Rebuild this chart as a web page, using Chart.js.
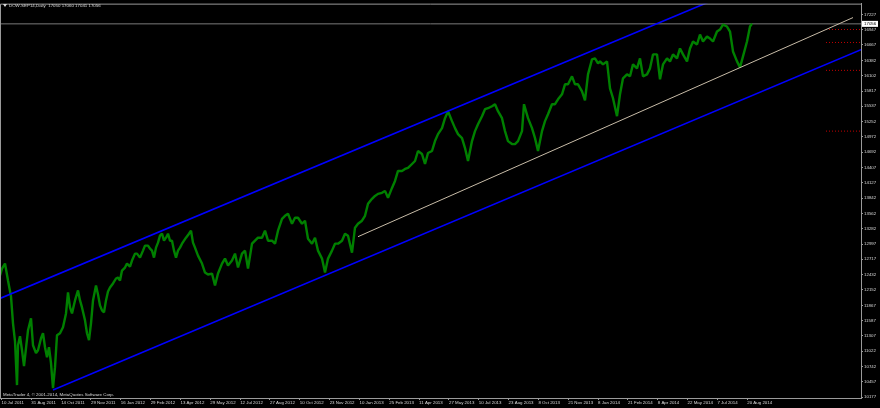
<!DOCTYPE html>
<html>
<head>
<meta charset="utf-8">
<title>DOW-SEP14,Daily</title>
<script src="https://cdn.jsdelivr.net/npm/chart.js@4.4.1/dist/chart.umd.min.js"></script>
<style>
  html, body { margin: 0; padding: 0; background: #000; }
  #priceChart { display: block; }
</style>
</head>
<body>
<canvas id="priceChart" width="880" height="408"></canvas>
<script>
/* ── data ── */
const symbolLabel = "DOW-SEP14,Daily";
const lastOhlc    = [17050, 17060, 17041, 17056];
const bidPrice    = 17056;

// bar number (1 bar per column) and close, sampled along the series
const barIndex = [
  0, 2, 5, 8, 11, 13, 15, 17, 18, 20, 22, 24, 26, 28, 31, 33, 36, 38, 41, 43,
  45, 47, 49, 51, 53, 55, 57, 60, 63, 66, 68, 70, 72, 75, 78, 80, 82, 85, 87, 89,
  91, 93, 96, 98, 100, 102, 104, 106, 108, 110, 113, 116, 118, 120, 122, 125, 127, 130, 132, 135,
  137, 140, 143, 145, 148, 150, 152, 154, 156, 158, 160, 162, 164, 166, 168, 170, 172, 174, 176, 178,
  180, 182, 184, 186, 189, 191, 193, 195, 198, 202, 205, 208, 212, 215, 218, 222, 225, 228, 232, 235,
  238, 242, 245, 248, 252, 255, 258, 262, 265, 268, 272, 275, 278, 282, 285, 288, 292, 295, 298, 302,
  305, 308, 312, 315, 318, 322, 325, 328, 332, 335, 338, 342, 345, 348, 352, 355, 358, 362, 365, 368,
  372, 375, 378, 382, 385, 388, 392, 395, 398, 402, 405, 408, 412, 415, 418, 422, 425, 428, 432, 435,
  438, 442, 445, 448, 452, 455, 458, 462, 465, 468, 472, 475, 478, 482, 485, 488, 492, 495, 498, 502,
  505, 508, 512, 515, 518, 522, 524, 528, 532, 535, 538, 542, 545, 548, 552, 555, 558, 562, 565, 568,
  572, 575, 578, 582, 585, 588, 592, 595, 598, 600, 603, 607, 610, 613, 617, 620, 623, 627, 630, 633,
  637, 640, 643, 647, 650, 653, 657, 660, 663, 667, 670, 673, 677, 680, 683, 687, 690, 693, 697, 700,
  703, 707, 710, 713, 717, 720, 723, 727, 730, 733, 737, 740, 743, 747, 750, 752
];
const closes = [
  12417, 12545, 12637, 12325, 12031, 11536, 11205, 10397, 11132, 11297, 11040, 10746, 11077, 11407, 11627, 11132, 10985, 11040, 11260, 11352,
  11095, 10911, 11095, 10801, 10342, 10728, 11315, 11352, 11462, 11719, 12105, 11829, 11719, 11958, 12142, 11958, 11829, 11591, 11352, 11224,
  11536, 11958, 12233, 12068, 11866, 11774, 11737, 11958, 12123, 12197, 12270, 12362, 12380, 12325, 12509, 12564, 12637, 12582, 12692, 12821,
  12821, 12747, 12876, 12968, 12968, 12913, 12876, 12747, 12931, 13023, 13151, 13188, 13059, 13114, 13188, 13059, 13059, 12876, 12747, 12876,
  12931, 13004, 13059, 13114, 13188, 13243, 13023, 12931, 12784, 12637, 12472, 12435, 12453, 12233, 12453, 12637, 12729, 12600, 12692, 12821,
  12564, 12821, 12876, 12545, 13004, 13059, 13114, 13114, 13243, 13059, 13059, 13004, 13243, 13463, 13518, 13555, 13371, 13482, 13482, 13371,
  13427, 13096, 13004, 13114, 12876, 12729, 12472, 12729, 12876, 13004, 13004, 13059, 13188, 13151, 12839, 13298, 13371, 13427, 13518, 13739,
  13830, 13885, 13922, 13941, 13977, 13849, 14032, 14161, 14345, 14345, 14381, 14400, 14473, 14528, 14712, 14657, 14473, 14675, 14712, 14895,
  15024, 15134, 15318, 15446, 15263, 15134, 15024, 14950, 14767, 14528, 14895, 15079, 15207, 15354, 15483, 15501, 15538, 15575, 15446, 15318,
  15079, 14895, 14840, 14840, 14895, 15079, 15575, 15318, 15134, 14950, 14712, 15079, 15263, 15391, 15575, 15575, 15666, 15758, 15942, 15942,
  16089, 15942, 15942, 15813, 15648, 16125, 16401, 16419, 16327, 16364, 16309, 16364, 15868, 15685, 15354, 15758, 16052, 16125, 16089, 16309,
  16236, 16419, 16089, 16125, 16236, 16493, 16493, 16034, 16309, 16419, 16364, 16493, 16419, 16603, 16493, 16364, 16603, 16731, 16676, 16860,
  16731, 16823, 16786, 16731, 16915, 16952, 17043, 17007, 16915, 16548, 16364, 16254, 16456, 16731, 17007, 17062
];

const yTicks = [
  17227, 16947, 16667, 16382, 16102, 15817, 15537, 15252, 14972, 14692, 14407, 14127, 13842, 13562,
  13282, 12997, 12717, 12432, 12152, 11867, 11587, 11307, 11022, 10742, 10457, 10177
];
const dateLabels = [
  "10 Jul 2011", "31 Aug 2011", "14 Oct 2011", "29 Nov 2011", "16 Jan 2012", "29 Feb 2012", "13 Apr 2012",
  "29 May 2012", "12 Jul 2012", "27 Aug 2012", "10 Oct 2012", "23 Nov 2012", "10 Jan 2013", "25 Feb 2013",
  "11 Apr 2013", "27 May 2013", "10 Jul 2013", "23 Aug 2013", "8 Oct 2013", "21 Nov 2013", "8 Jan 2014",
  "21 Feb 2014", "8 Apr 2014", "22 May 2014", "7 Jul 2014", "20 Aug 2014"
];
const barsPerLabel = 29.83;

// drawn objects: [bar, price] end points
const upperChannel = [[0, 11995], [861, 18633]];
const lowerChannel = [[53, 10305], [861, 16580]];
const trendLine    = [[358, 13133], [853, 17172]];
const alertLevels  = [16952, 16713, 16199, 15079];
const alertFromBar = 826;

(function () {
  const FONT   = "'Liberation Sans', Arial, sans-serif";
  const AXIS   = "#9a9a9a";
  const TEXT   = "#d8d8d8";
  const X_MAX  = 861;
  const Y_MIN  = 10159;
  const Y_MAX  = 17429;

  const pts = (arr) => arr.map(([x, y]) => ({ x, y }));

  /* ── datasets ── */
  const datasets = [
    {
      label: "upper channel",
      data: pts(upperChannel),
      borderColor: "#0000ff",
      borderWidth: 1.6,
    },
    {
      label: "lower channel",
      data: pts(lowerChannel),
      borderColor: "#0000ff",
      borderWidth: 1.6,
    },
    {
      label: "trend",
      data: pts(trendLine),
      borderColor: "#c8bca8",
      borderWidth: 1,
    },
    {
      label: "close",
      data: barIndex.map((b, i) => ({ x: b, y: closes[i] })),
      borderColor: "#008000",
      borderWidth: 2.4,
      borderJoinStyle: "bevel",
    },
    {
      label: "bid",
      data: [{ x: 0, y: bidPrice }, { x: X_MAX, y: bidPrice }],
      borderColor: "#7a7a7a",
      borderWidth: 1,
    },
  ];

  alertLevels.forEach((lvl) => {
    datasets.push({
      label: "alert " + lvl,
      data: [{ x: alertFromBar, y: lvl }, { x: X_MAX, y: lvl }],
      borderColor: "#c00000",
      borderWidth: 1,
      borderDash: [1, 2],
    });
  });

  datasets.forEach((d) => {
    d.pointRadius = 0;
    d.fill = false;
    d.tension = 0;
  });

  /* ── overlay: header, copyright, bid box, frame ── */
  const overlay = {
    id: "mtOverlay",
    afterDraw(chart) {
      const { ctx, chartArea: a, scales } = chart;
      ctx.save();

      // frame left + top
      ctx.strokeStyle = AXIS;
      ctx.lineWidth = 1;
      ctx.beginPath();
      ctx.moveTo(a.left + 0.5, a.bottom);
      ctx.lineTo(a.left + 0.5, a.top + 0.5);
      ctx.lineTo(a.right, a.top + 0.5);
      ctx.stroke();

      // header
      ctx.fillStyle = TEXT;
      ctx.beginPath();
      ctx.moveTo(3, 4);
      ctx.lineTo(7, 4);
      ctx.lineTo(5, 7);
      ctx.closePath();
      ctx.fill();
      ctx.font = "4.4px " + FONT;
      ctx.textBaseline = "middle";
      ctx.textAlign = "left";
      ctx.fillText(symbolLabel + "  " + lastOhlc.join(" "), 9, 5.5);

      // copyright
      ctx.fillText("MetaTrader 4, \u00a9 2001-2014, MetaQuotes Software Corp.", 3, 395);

      // bid label
      const by = scales.y.getPixelForValue(bidPrice);
      ctx.fillStyle = "#ffffff";
      ctx.fillRect(a.right + 1, by - 3, 16, 6);
      ctx.fillStyle = "#000000";
      ctx.fillText(String(bidPrice), a.right + 3, by + 0.3);

      ctx.restore();
    },
  };

  /* ── chart ── */
  new Chart(document.getElementById("priceChart"), {
    type: "line",
    data: { datasets },
    options: {
      responsive: false,
      animation: false,
      events: [],
      layout: { padding: { left: 0, top: 2, right: 0, bottom: 0 } },
      plugins: {
        legend: { display: false },
        tooltip: { enabled: false },
      },
      scales: {
        x: {
          type: "linear",
          min: 0,
          max: X_MAX,
          afterFit: (s) => { s.height = 10; },
          afterBuildTicks: (s) => {
            s.ticks = dateLabels.map((_, i) => ({ value: 1.5 + i * barsPerLabel }));
          },
          grid: { drawOnChartArea: false, tickLength: 2, color: AXIS },
          border: { color: AXIS },
          ticks: {
            autoSkip: false,
            maxRotation: 0,
            align: "start",
            padding: 0,
            color: TEXT,
            font: { family: FONT, size: 4.4 },
            callback: (v, i) => dateLabels[i],
          },
        },
        y: {
          position: "right",
          min: Y_MIN,
          max: Y_MAX,
          afterFit: (s) => { s.width = 19; },
          afterBuildTicks: (s) => {
            s.ticks = yTicks.map((v) => ({ value: v }));
          },
          grid: { drawOnChartArea: false, tickLength: 2, color: AXIS },
          border: { color: AXIS },
          ticks: {
            padding: 1,
            color: TEXT,
            font: { family: FONT, size: 4.4 },
            callback: (v) => String(v),
          },
        },
      },
    },
    plugins: [overlay],
  });
})();
</script>
</body>
</html>
